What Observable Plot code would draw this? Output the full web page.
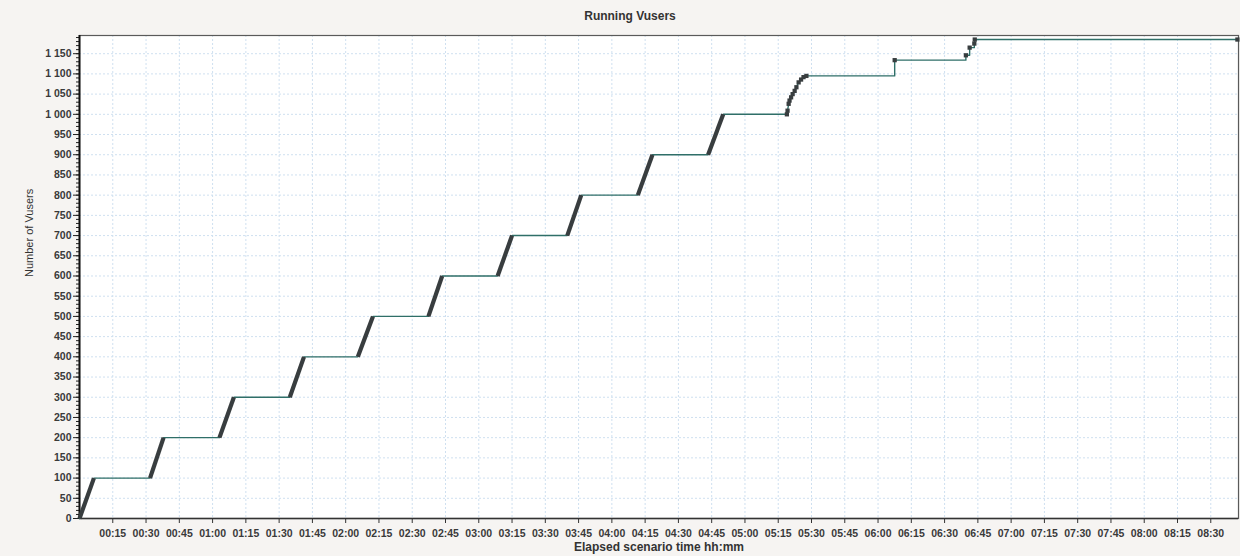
<!DOCTYPE html>
<html>
<head>
<meta charset="utf-8">
<script src="https://cdn.jsdelivr.net/npm/d3@7"></script>
<script src="https://cdn.jsdelivr.net/npm/@observablehq/plot@0.6"></script>
<style>
  html, body { margin: 0; padding: 0; background: #f6f4f2; }
  #wrap { position: relative; width: 1240px; height: 556px; overflow: hidden; }
  #title { position: relative; height: 26px; }
  #title span { position: absolute; left: 630px; top: 16px; transform: translate(-50%, -50%);
    font: bold 12px "Liberation Sans", Arial, sans-serif; color: #333; white-space: nowrap; }
  svg { display: block; }
</style>
</head>
<body>
<div id="wrap">
  <div id="title"><span>Running Vusers</span></div>
  <div id="chart"></div>
</div>
<script>
// ---- data (minutes elapsed, number of Vusers) ----
const rampStart = [0, 31.8, 63.1, 94.8, 125.5, 157.3, 188.5, 219.9, 251.7, 283.4];
const rampEnd   = [6.5, 37.9, 69.6, 101.2, 132.3, 163.5, 195.0, 226.2, 258.3, 290.2];
const rampFrom  = [0, 100, 200, 300, 400, 500, 600, 700, 800, 900];
const rampTo    = [100, 200, 300, 400, 500, 600, 700, 800, 900, 1000];
const curveTimes  = [318.9, 319.2, 319.7, 320.1, 320.8, 321.5, 322.4, 323.2, 324.2, 325.3, 326.4, 327.7];
const curveValues = [1000, 1009, 1026, 1034, 1042, 1050, 1058, 1067, 1079, 1086, 1092, 1095];
const tailTimes  = [327.7, 367.5, 399.6, 401.3, 403.4, 403.6, 522.0];
const tailValues = [1095, 1134, 1146, 1165, 1175, 1185, 1185];
const xTickLabels = ["00:15","00:30","00:45","01:00","01:15","01:30","01:45","02:00","02:15","02:30",
  "02:45","03:00","03:15","03:30","03:45","04:00","04:15","04:30","04:45","05:00","05:15","05:30",
  "05:45","06:00","06:15","06:30","06:45","07:00","07:15","07:30","07:45","08:00","08:15","08:30"];
const yTicks = [0,50,100,150,200,250,300,350,400,450,500,550,600,650,700,750,800,850,900,950,
  1000,1050,1100,1150];

// ---- derived tables ----
const toMin = s => { const [h, m] = s.split(":").map(Number); return h * 60 + m; };
const xTicks = xTickLabels.map(toMin);
const fmtTime = m => String(Math.floor(m / 60)).padStart(2, "0") + ":" + String(m % 60).padStart(2, "0");
const fmtY = d => d >= 1000 ? Math.floor(d / 1000) + " " + String(d % 1000).padStart(3, "0") : String(d);

const mainLine = [];
rampStart.forEach((t, i) => {
  mainLine.push({t, v: rampFrom[i]});
  mainLine.push({t: rampEnd[i], v: rampTo[i]});
});
curveTimes.forEach((t, i) => mainLine.push({t, v: curveValues[i]}));
const tail = tailTimes.map((t, i) => ({t, v: tailValues[i]}));
const ramps = rampStart.map((t, i) => ({t1: t, v1: rampFrom[i], t2: rampEnd[i], v2: rampTo[i]}));
const curvePts = curveTimes.map((t, i) => ({t, v: curveValues[i]}));
const tailPts = tail.slice(1);
const minorY = d3.range(0, 1191, 10);

const font = '"Liberation Sans", Arial, sans-serif';
const grid = "#cfe0f0";

const chart = Plot.plot({
  width: 1240,
  height: 530,
  marginTop: 9,
  marginBottom: 38,
  marginLeft: 79,
  marginRight: 2,
  style: {fontFamily: font, background: "transparent", overflow: "visible"},
  x: {domain: [0, 522.5]},
  y: {domain: [0, 1195]},
  marks: [
    Plot.frame({fill: "white", stroke: null}),
    Plot.gridX(xTicks, {stroke: grid, strokeOpacity: 1, strokeDasharray: "2,2"}),
    Plot.gridY(yTicks.filter(d => d > 0), {stroke: grid, strokeOpacity: 1, strokeDasharray: "2,2"}),
    Plot.frame({stroke: "#5a5a5a", strokeWidth: 1.2}),
    Plot.axisX(xTicks, {tickFormat: fmtTime, tickSize: 5, tickPadding: 6, fontSize: 10.5,
      fontWeight: "bold", fill: "#3a3a3a", stroke: "#333", label: null}),
    Plot.axisY(minorY, {tickSize: 3, text: null, stroke: "#222", label: null}),
    Plot.axisY(yTicks, {tickFormat: fmtY, tickSize: 6, tickPadding: 2, fontSize: 10.5,
      fontWeight: "bold", fill: "#3a3a3a", stroke: "#222", label: null}),
    Plot.ruleX([0], {stroke: "#111", strokeWidth: 2}),
    Plot.ruleY([0], {stroke: "#333", strokeWidth: 1.5}),
    Plot.line(mainLine, {x: "t", y: "v", stroke: "#2f6f68", strokeWidth: 1.4}),
    Plot.line(tail, {x: "t", y: "v", curve: "step-after", stroke: "#2f6f68", strokeWidth: 1.4}),
    Plot.link(ramps, {x1: "t1", y1: "v1", x2: "t2", y2: "v2", stroke: "#383d3f", strokeWidth: 4.2}),
    Plot.dot(curvePts, {x: "t", y: "v", symbol: "square", r: 2.4, fill: "#383d3f", stroke: null}),
    Plot.dot(tailPts, {x: "t", y: "v", symbol: "square", r: 2.4, fill: "#383d3f", stroke: null}),
    Plot.text(["Number of Vusers"], {frameAnchor: "left", dx: -50, rotate: -90, fontSize: 11,
      fill: "#333", text: d => d}),
    Plot.text(["Elapsed scenario time hh:mm"], {frameAnchor: "bottom", dy: 32, fontSize: 12,
      fontWeight: "bold", fill: "#333", text: d => d})
  ]
});
document.getElementById("chart").appendChild(chart);
</script>
</body>
</html>
